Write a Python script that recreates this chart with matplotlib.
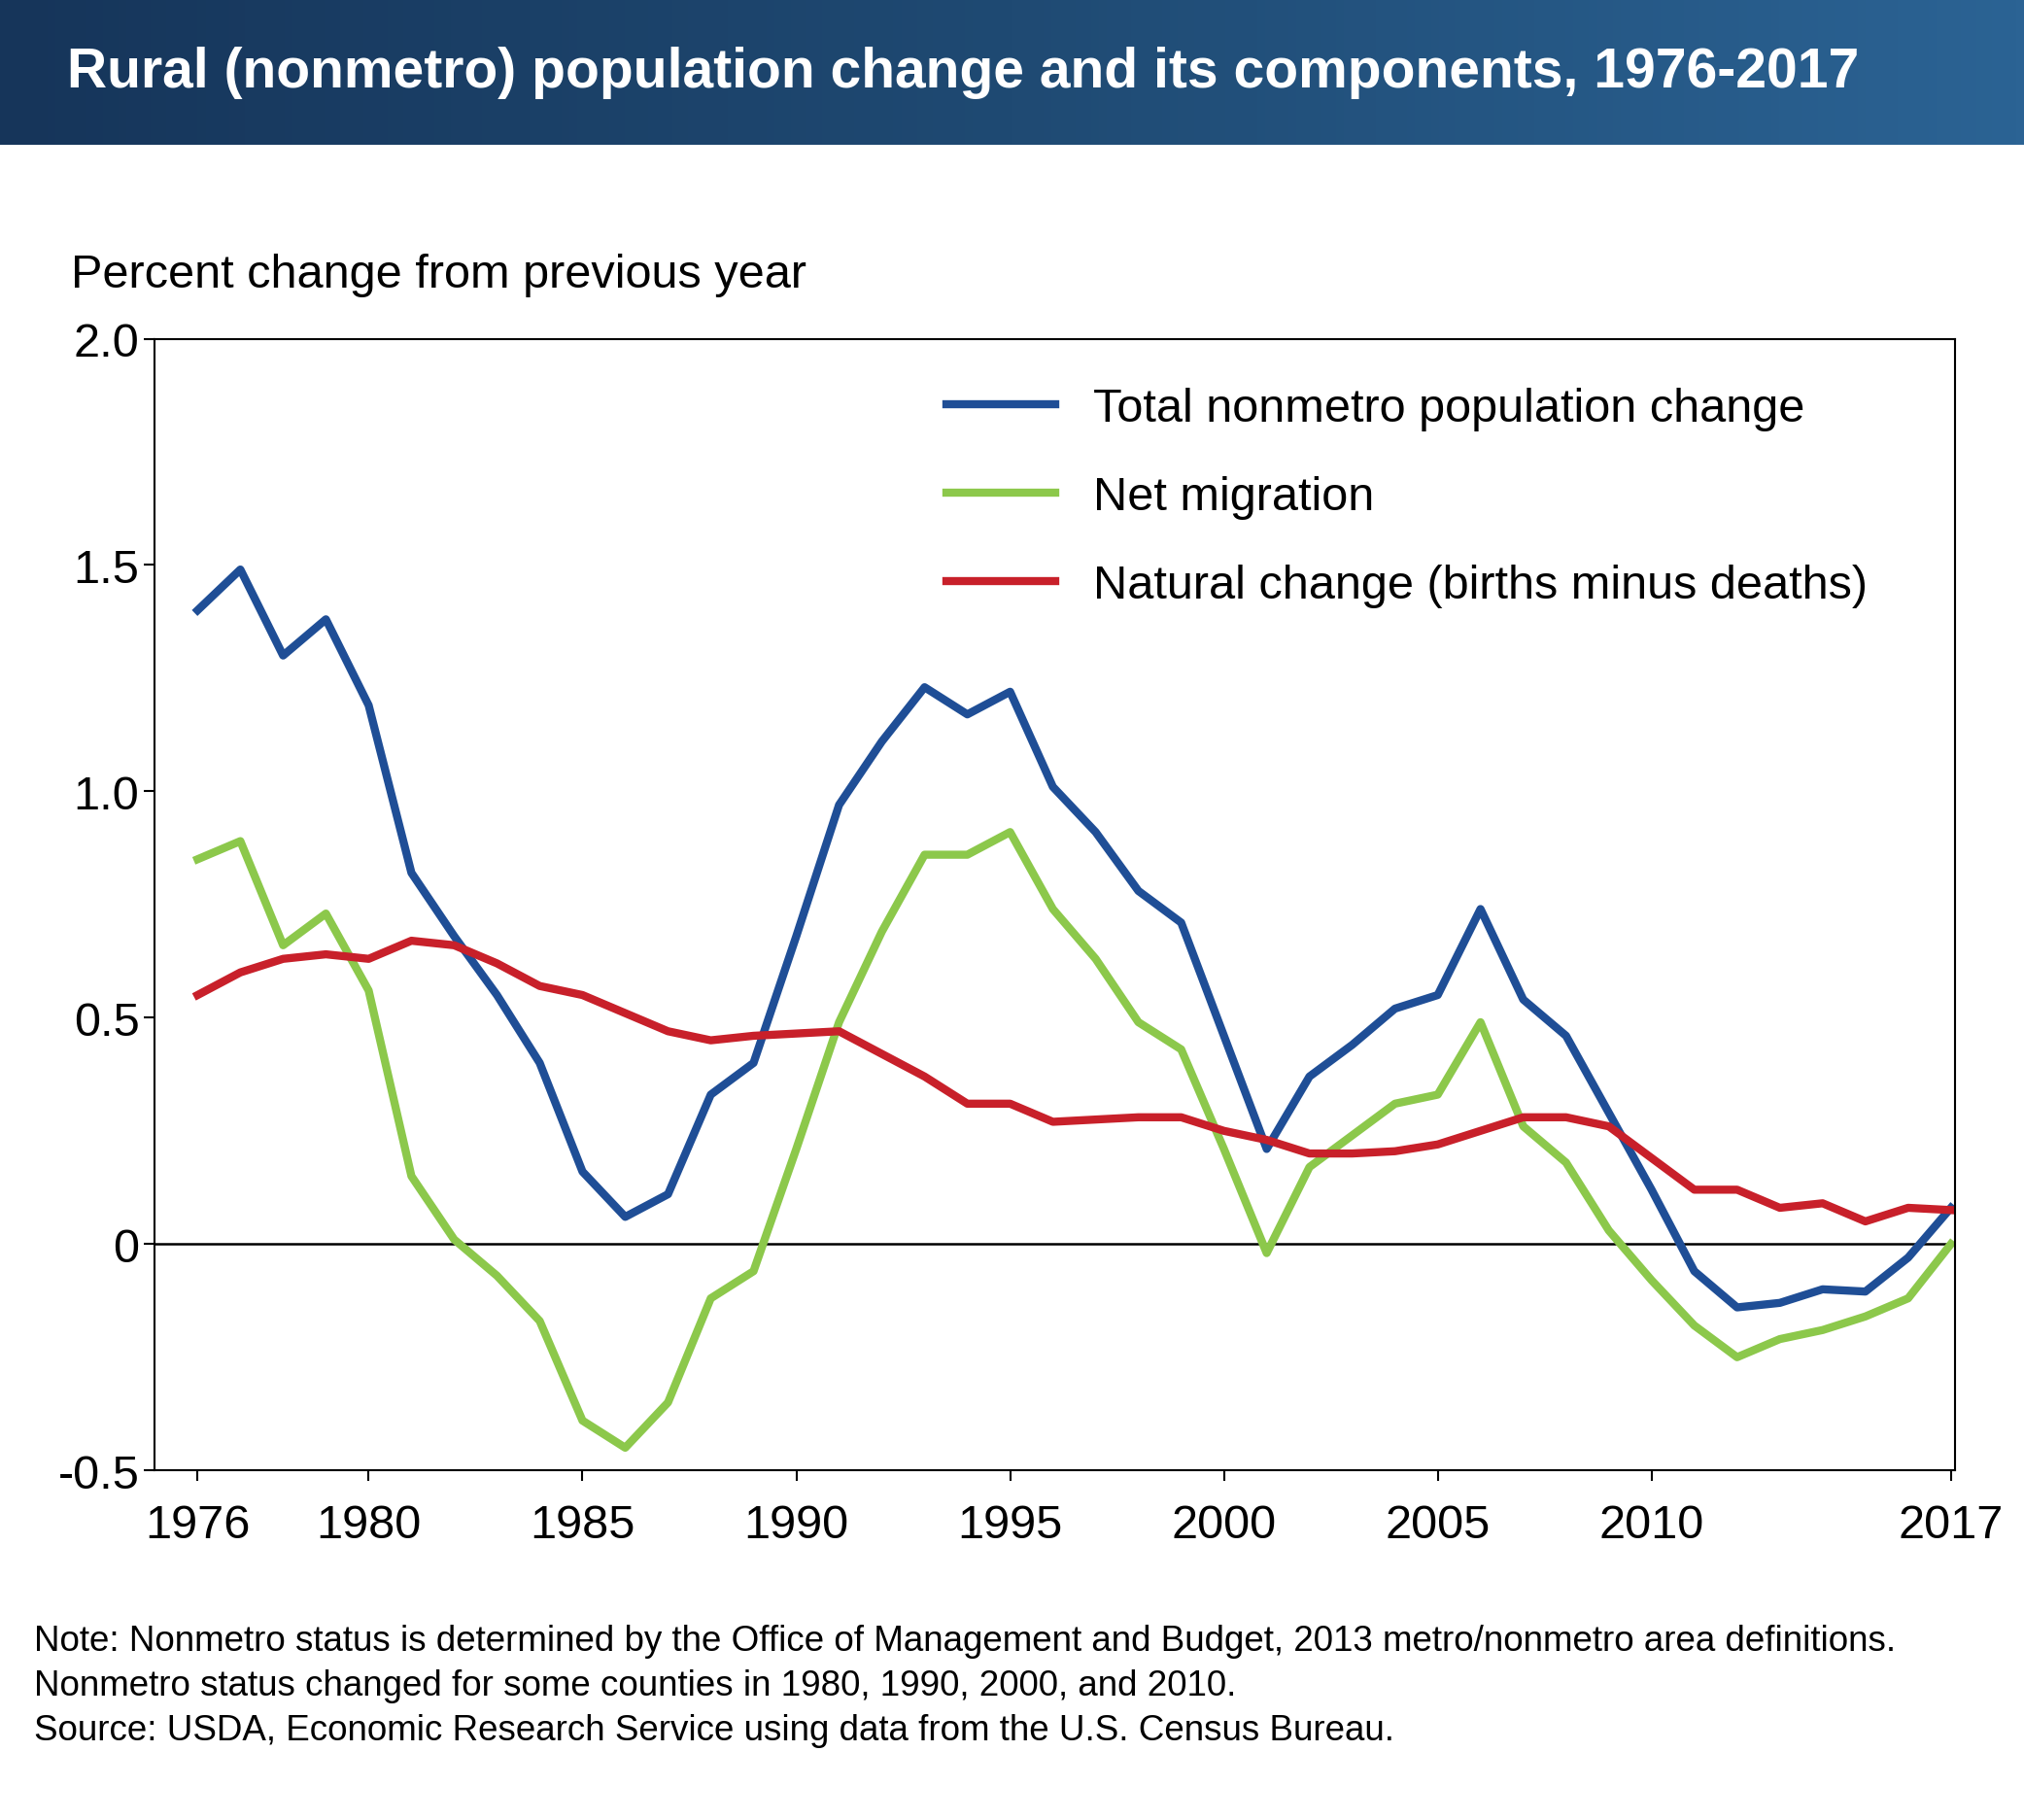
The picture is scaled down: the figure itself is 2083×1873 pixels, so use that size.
import numpy as np
import matplotlib.pyplot as plt

years = list(range(1976, 2018))
total = [1.40, 1.49, 1.30, 1.38, 1.19, 0.82, 0.68, 0.55, 0.40, 0.16, 0.06, 0.11, 0.33, 0.40,
         0.68, 0.97, 1.11, 1.23, 1.17, 1.22, 1.01, 0.91, 0.78, 0.71, 0.46, 0.21, 0.37, 0.44,
         0.52, 0.55, 0.74, 0.54, 0.46, 0.29, 0.12, -0.06, -0.14, -0.13, -0.10, -0.105, -0.03, 0.08]
migration = [0.85, 0.89, 0.66, 0.73, 0.56, 0.15, 0.01, -0.07, -0.17, -0.39, -0.45, -0.35, -0.12, -0.06,
             0.21, 0.49, 0.69, 0.86, 0.86, 0.91, 0.74, 0.63, 0.49, 0.43, 0.21, -0.02, 0.17, 0.24,
             0.31, 0.33, 0.49, 0.26, 0.18, 0.03, -0.08, -0.18, -0.25, -0.21, -0.19, -0.16, -0.12, 0.00]
natural = [0.55, 0.60, 0.63, 0.64, 0.63, 0.67, 0.66, 0.62, 0.57, 0.55, 0.51, 0.47, 0.45, 0.46,
           0.465, 0.47, 0.42, 0.37, 0.31, 0.31, 0.27, 0.275, 0.28, 0.28, 0.25, 0.23, 0.20, 0.20,
           0.205, 0.22, 0.25, 0.28, 0.28, 0.26, 0.19, 0.12, 0.12, 0.08, 0.09, 0.05, 0.08, 0.075]
xticks = [1976, 1980, 1985, 1990, 1995, 2000, 2005, 2010, 2017]
yticks = [-0.5, 0, 0.5, 1.0, 1.5, 2.0]
ylabels = ['-0.5', '0', '0.5', '1.0', '1.5', '2.0']

plt.rcParams['font.family'] = ['Liberation Sans', 'DejaVu Sans']
fig = plt.figure(figsize=(20.83, 18.74), dpi=100)

# title band with gradient
band = fig.add_axes([0, 0.92, 1, 0.08])
grad = np.linspace(0, 1, 256).reshape(1, -1)
band.imshow(grad, aspect='auto', cmap=plt.matplotlib.colors.LinearSegmentedColormap.from_list(
    'b', ['#16355a', '#1f4a73', '#2b6394']), extent=[0, 1, 0, 1])
band.set_axis_off()
band.text(0.033, 0.5, 'Rural (nonmetro) population change and its components, 1976-2017',
          color='white', fontsize=41, fontweight='bold', va='center', ha='left')

ax = fig.add_axes([0.0765, 0.192, 0.8895, 0.6215])
ax.plot(years, total, color='#1f4e96', lw=6, label='Total nonmetro population change')
ax.plot(years, migration, color='#8cc84b', lw=6, label='Net migration')
ax.plot(years, natural, color='#c8202a', lw=6, label='Natural change (births minus deaths)')
ax.axhline(0, color='black', lw=1.8, zorder=0)
ax.set_xlim(1975, 2017.1)
ax.set_ylim(-0.5, 2.0)
ax.set_xticks(xticks)
ax.set_yticks(yticks)
ax.set_yticklabels(ylabels)
ax.tick_params(labelsize=35, length=8, width=1.5, direction='out')
ax.tick_params(axis='x', pad=16)
for s in ax.spines.values():
    s.set_linewidth(1.5)
ax.legend(loc='upper right', bbox_to_anchor=(0.975, 0.995), frameon=False, fontsize=35,
          handlelength=2.3, labelspacing=0.95)
fig.text(0.035, 0.842, 'Percent change from previous year', fontsize=35)

fig.text(0.017, 0.04,
         'Note: Nonmetro status is determined by the Office of Management and Budget, 2013 metro/nonmetro area definitions.\n'
         'Nonmetro status changed for some counties in 1980, 1990, 2000, and 2010.\n'
         'Source: USDA, Economic Research Service using data from the U.S. Census Bureau.',
         fontsize=26.5, linespacing=1.4, va='bottom')

fig.savefig('out.png', dpi=100)
